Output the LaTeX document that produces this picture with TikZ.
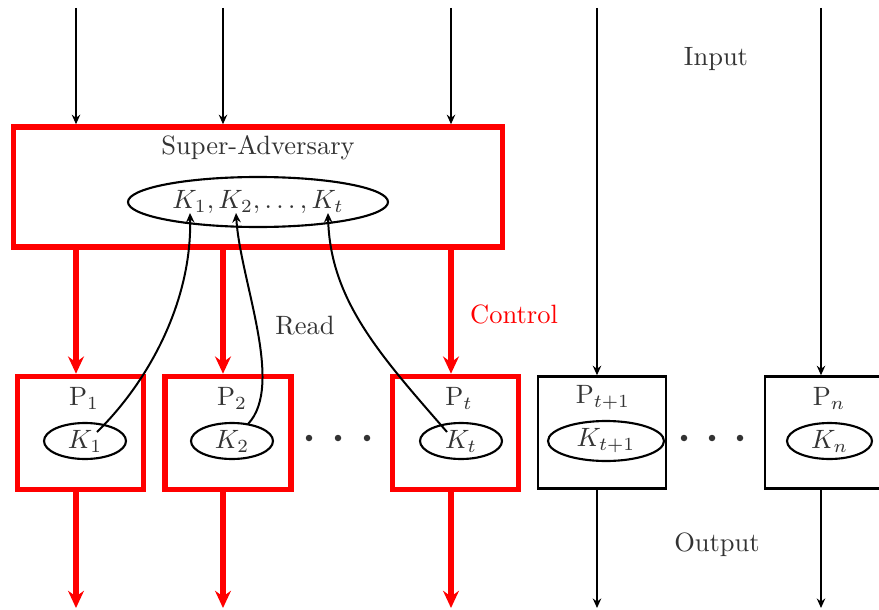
\documentclass[tikz,border=0pt]{standalone}
\usetikzlibrary{arrows.meta,shapes.geometric}
\newlength\pxu
\setlength\pxu{0.3774pt}
\definecolor{ink}{HTML}{333333}
\tikzset{
  redbox/.style={draw=red, line width=2.1pt, minimum width=126\pxu, minimum height=113\pxu, inner sep=0pt},
  blackbox/.style={draw=black, line width=0.95pt, minimum width=128\pxu, minimum height=112\pxu, inner sep=0pt},
  keyoval/.style={draw=black, line width=0.8pt, ellipse, inner sep=0pt, text=ink},
  lbl/.style={text=ink, inner sep=0pt},
  blackarrow/.style={draw=black, line width=0.75pt, -{Stealth[length=3.6pt, width=3.2pt, inset=1.2pt]}},
  redarrow/.style={draw=red, line width=2pt, -{Stealth[length=6.5pt, width=6pt, inset=2.2pt]}},
  readcurve/.style={draw=black, line width=0.75pt, -{Stealth[length=3.6pt, width=3.2pt, inset=1.2pt]}},
  dotmark/.style={circle, fill=ink, inner sep=0pt, minimum size=6.5\pxu},
}
\begin{document}
\begin{tikzpicture}[x=1\pxu, y=-1\pxu]
\useasboundingbox (0,0) rectangle (879,610);

% top and bottom ends of the vertical lines
\coordinate (top) at (0,8);
\coordinate (bot) at (0,608);
\coordinate (c1) at (76,0);
\coordinate (c2) at (223,0);
\coordinate (c3) at (451,0);
\coordinate (c4) at (597,0);
\coordinate (c5) at (821,0);

% super-adversary
\node[draw=red, line width=2.1pt, minimum width=489\pxu, minimum height=120\pxu, inner sep=0pt] (sa) at (258,187) {};
\node[lbl] (satitle) at (258,148) {Super-Adversary};
\node[keyoval, minimum width=260\pxu, minimum height=50\pxu] (keys) at (258,202) {$K_1, K_2, \ldots, K_t$};

% parties
\node[redbox] (p1) at (80.5,433) {};
\node[lbl] (p1t) at (84,398) {P$_1$};
\node[keyoval, minimum width=82\pxu, minimum height=36\pxu] (k1) at (85,441) {$K_1$};

\node[redbox] (p2) at (228,433) {};
\node[lbl] (p2t) at (232,398) {P$_2$};
\node[keyoval, minimum width=82\pxu, minimum height=36\pxu] (k2) at (232,441) {$K_2$};

\node[redbox] (pt) at (455.5,433) {};
\node[lbl] (ptt) at (459,398) {P$_t$};
\node[keyoval, minimum width=82\pxu, minimum height=36\pxu] (kt) at (461,441) {$K_t$};

\node[blackbox] (pt1) at (602,432.5) {};
\node[lbl] (pt1t) at (603,398) {P$_{t+1}$};
\node[keyoval, minimum width=116\pxu, minimum height=40\pxu] (kt1) at (606,441) {$K_{t+1}$};

\node[blackbox] (pn) at (829,432.5) {};
\node[lbl] (pnt) at (829,398) {P$_n$};
\node[keyoval, minimum width=85\pxu, minimum height=36\pxu] (kn) at (829.5,441) {$K_n$};

% ellipsis dots
\node[dotmark] (d1) at (309,438) {};
\node[dotmark] (d2) at (338,438) {};
\node[dotmark] (d3) at (367,438) {};
\node[dotmark] (d4) at (684,438) {};
\node[dotmark] (d5) at (712,438) {};
\node[dotmark] (d6) at (740,438) {};

% labels
\node[lbl] (input) at (716,59) {Input};
\node[lbl] (output) at (717,545) {Output};
\node[lbl] (read) at (305,326) {Read};
\node[text=red, inner sep=0pt] (control) at (514,314) {Control};

% inputs
\draw[blackarrow] (c1 |- top) -- (c1 |- sa.north);
\draw[blackarrow] (c2 |- top) -- (c2 |- sa.north);
\draw[blackarrow] (c3 |- top) -- (c3 |- sa.north);
\draw[blackarrow] (c4 |- top) -- (c4 |- pt1.north);
\draw[blackarrow] (c5 |- top) -- (c5 |- pn.north);

% control
\draw[redarrow] (c1 |- sa.south) -- (c1 |- p1.north);
\draw[redarrow] (c2 |- sa.south) -- (c2 |- p2.north);
\draw[redarrow] (c3 |- sa.south) -- (c3 |- pt.north);

% outputs
\draw[redarrow] (c1 |- p1.south) -- (c1 |- bot);
\draw[redarrow] (c2 |- p2.south) -- (c2 |- bot);
\draw[redarrow] (c3 |- pt.south) -- (c3 |- bot);
\draw[blackarrow] (c4 |- pt1.south) -- (c4 |- bot);
\draw[blackarrow] (c5 |- pn.south) -- (c5 |- bot);

% read links from the parties' keys
\coordinate (r1) at (97,432);
\coordinate (r2) at (248,424);
\coordinate (r3) at (447,432);
\coordinate (e1) at (190,213);
\coordinate (e2) at (236,213);
\coordinate (e3) at (328,213);
\draw[readcurve] (r1) .. controls (150,380) and (192,300) .. (e1);
\draw[readcurve] (r2) .. controls (285,385) and (240,280) .. (e2);
\draw[readcurve] (r3) .. controls (380,355) and (330,300) .. (e3);
\end{tikzpicture}
\end{document}
